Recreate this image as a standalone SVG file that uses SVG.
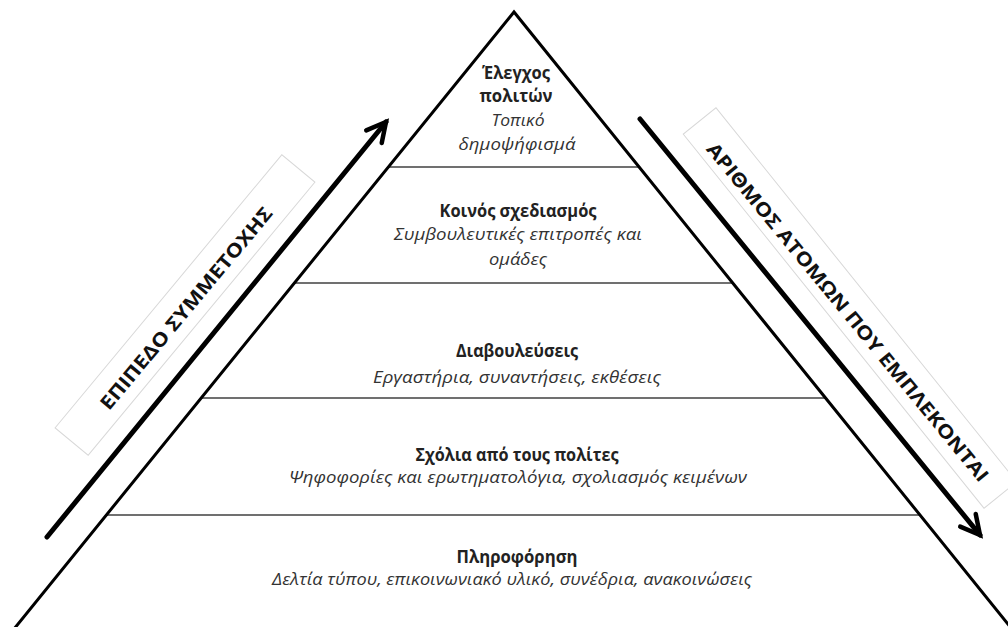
<svg xmlns="http://www.w3.org/2000/svg" width="1008" height="627" viewBox="0 0 1008 627">
<style>
text{font-family:"Open Sans","Noto Sans","DejaVu Sans",sans-serif;text-anchor:middle;}
.b{font-weight:bold;font-size:18px;fill:#222;}
.i{font-style:italic;font-size:16.5px;fill:#333;}
.lbl{font-weight:bold;font-size:19px;fill:#111;}
.div{stroke:#707070;stroke-width:2;}
.edge{fill:none;stroke:#000;stroke-width:3;stroke-linejoin:miter;}
.box{fill:#fff;stroke:#d8d8d8;stroke-width:1;}
.arr{stroke:#000;stroke-width:5;stroke-linecap:round;fill:none;}
</style>
<defs>
<marker id="ah" markerUnits="userSpaceOnUse" viewBox="-24 -14 30 28" markerWidth="30" markerHeight="28" refX="0" refY="0" orient="auto">
<path d="M-19,-10 L0,0 L-19,10" fill="none" stroke="#000" stroke-width="4.5" stroke-linecap="round" stroke-linejoin="miter"/>
</marker>
</defs>
<rect width="1008" height="627" fill="#fff"/>
<g id="connectors">
<line class="arr" x1="47" y1="537" x2="386" y2="122" marker-end="url(#ah)"/>
<line class="arr" x1="640" y1="119" x2="980" y2="535" marker-end="url(#ah)"/>
</g>
<g id="label-left">
<rect class="box" x="-177.5" y="-21.5" width="355" height="43" transform="translate(185,305) rotate(-50.3)"/>
<text class="lbl" transform="translate(186,308) rotate(-50.2)" x="0" y="7" textLength="257" lengthAdjust="spacingAndGlyphs">ΕΠΙΠΕΔΟ ΣΥΜΜΕΤΟΧΗΣ</text>
</g>
<g id="label-right">
<rect class="box" x="-240" y="-21" width="480" height="42" transform="translate(850,308) rotate(51.2)"/>
<text class="lbl" transform="translate(848,312) rotate(50.6)" x="0" y="7" textLength="432" lengthAdjust="spacingAndGlyphs">ΑΡΙΘΜΟΣ ΑΤΟΜΩΝ ΠΟΥ ΕΜΠΛΕΚΟΝΤΑΙ</text>
</g>
<g id="pyramid">
<line class="div" x1="388" y1="167" x2="640" y2="167"/>
<line class="div" x1="295" y1="283" x2="733" y2="283"/>
<line class="div" x1="201" y1="398" x2="826" y2="398"/>
<line class="div" x1="107" y1="515" x2="921" y2="515"/>
<polyline class="edge" points="14,629 514,12 1012,629"/>
</g>
<g id="tier1">
<text class="b" x="516" y="79" textLength="68" lengthAdjust="spacingAndGlyphs">Έλεγχος</text>
<text class="b" x="516" y="102" textLength="73" lengthAdjust="spacingAndGlyphs">πολιτών</text>
<text class="i" x="518" y="126" textLength="53" lengthAdjust="spacingAndGlyphs">Τοπικό</text>
<text class="i" x="517" y="150" textLength="117" lengthAdjust="spacingAndGlyphs">δημοψήφισμά</text>
</g>
<g id="tier2">
<text class="b" x="518" y="217" textLength="157" lengthAdjust="spacingAndGlyphs">Κοινός σχεδιασμός</text>
<text class="i" x="518" y="240" textLength="248" lengthAdjust="spacingAndGlyphs">Συμβουλευτικές επιτροπές και</text>
<text class="i" x="518" y="265" textLength="58" lengthAdjust="spacingAndGlyphs">ομάδες</text>
</g>
<g id="tier3">
<text class="b" x="517" y="357" textLength="122" lengthAdjust="spacingAndGlyphs">Διαβουλεύσεις</text>
<text class="i" x="517" y="383" textLength="288" lengthAdjust="spacingAndGlyphs">Εργαστήρια, συναντήσεις, εκθέσεις</text>
</g>
<g id="tier4">
<text class="b" x="517" y="461" textLength="203" lengthAdjust="spacingAndGlyphs">Σχόλια από τους πολίτες</text>
<text class="i" x="518" y="483" textLength="458" lengthAdjust="spacingAndGlyphs">Ψηφοφορίες και ερωτηματολόγια, σχολιασμός κειμένων</text>
</g>
<g id="tier5">
<text class="b" x="517" y="563" textLength="121" lengthAdjust="spacingAndGlyphs">Πληροφόρηση</text>
<text class="i" x="512" y="585" textLength="480" lengthAdjust="spacingAndGlyphs">Δελτία τύπου, επικοινωνιακό υλικό, συνέδρια, ανακοινώσεις</text>
</g>
</svg>
